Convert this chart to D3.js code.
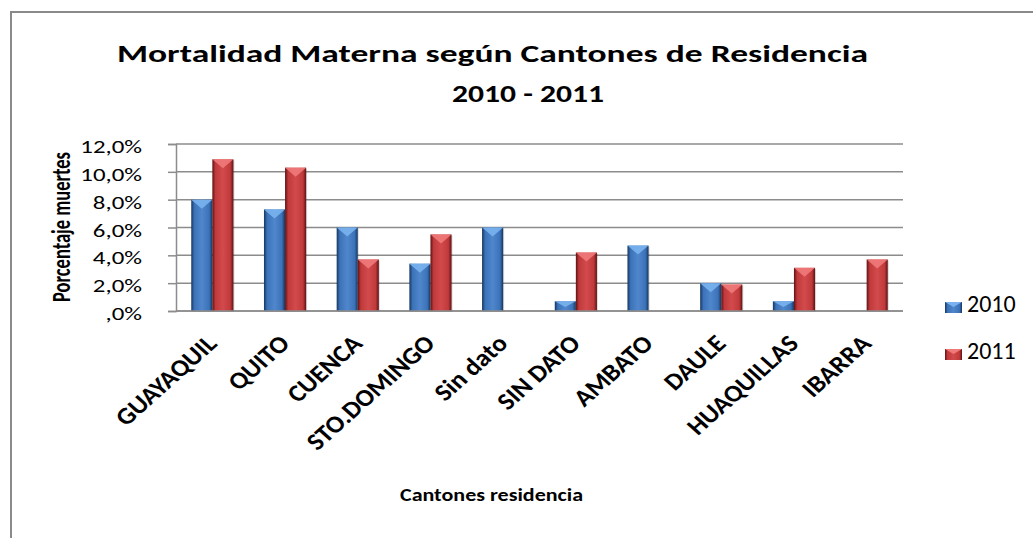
<!DOCTYPE html>
<html>
<head>
<meta charset="utf-8">
<script src="https://cdnjs.cloudflare.com/ajax/libs/d3/7.8.5/d3.min.js"></script>
<style>
  body { margin: 0; background: white; }
  svg { display: block; font-family: Carlito, Calibri, Lato, sans-serif; }
</style>
</head>
<body>
<svg id="chart" width="1033" height="538"></svg>
<script>
// data (percent of deaths)
var cantones = ["GUAYAQUIL", "QUITO", "CUENCA", "STO.DOMINGO", "Sin dato",
                "SIN DATO", "AMBATO", "DAULE", "HUAQUILLAS", "IBARRA"];
var years = ["2010", "2011"];
var values2010 = [8.0, 7.3, 6.0, 3.4, 6.0, 0.7, 4.7, 2.0, 0.7, 0];
var values2011 = [10.9, 10.3, 3.7, 5.5, 0, 4.2, 0, 1.9, 3.1, 3.7];
var yTicks = [0, 2, 4, 6, 8, 10, 12];

// the original picture is stretched sideways, so text is widened to match
var stretch = 1.38;
var labelStretch = 1.12;

var svg = d3.select("#chart");
var defs = svg.append("defs");

var palette = {
  "2010": { dark: "#16365f", mid: "#3b72b8", light: "#4f86cc", top: "#79b2ee" },
  "2011": { dark: "#5e1213", mid: "#c0393b", light: "#d24a4c", top: "#f07a7a" }
};

years.forEach(function(y) {
  var g = defs.append("linearGradient")
    .attr("id", "grad" + y)
    .attr("x1", "0").attr("x2", "1").attr("y1", "0").attr("y2", "0");
  g.append("stop").attr("offset", "0").attr("stop-color", palette[y].dark);
  g.append("stop").attr("offset", "0.15").attr("stop-color", palette[y].mid);
  g.append("stop").attr("offset", "0.5").attr("stop-color", palette[y].light);
  g.append("stop").attr("offset", "0.85").attr("stop-color", palette[y].mid);
  g.append("stop").attr("offset", "1").attr("stop-color", palette[y].dark);
});

function widen(sel, k) {
  sel.each(function() {
    var w = this.getComputedTextLength();
    d3.select(this).attr("textLength", w * k).attr("lengthAdjust", "spacingAndGlyphs");
  });
}

// outer frame (runs off the bottom/right of the picture)
svg.append("rect")
  .attr("x", 11).attr("y", 12)
  .attr("width", 1040).attr("height", 540)
  .attr("fill", "white")
  .attr("stroke", "#8a8a8a")
  .attr("stroke-width", 2);

var margin = { left: 176, right: 903, top: 144, bottom: 311 };

var x = d3.scaleBand()
  .domain(cantones)
  .range([margin.left, margin.right])
  .paddingInner(0.42)
  .paddingOuter(0.21);

var xs = d3.scaleBand()
  .domain(years)
  .range([0, x.bandwidth()]);

var y = d3.scaleLinear()
  .domain([0, 12])
  .range([margin.bottom, margin.top]);

// gridlines
svg.append("g")
  .selectAll("line")
  .data(yTicks)
  .enter().append("line")
  .attr("x1", margin.left)
  .attr("x2", margin.right)
  .attr("y1", function(d) { return y(d); })
  .attr("y2", function(d) { return y(d); })
  .attr("stroke", "#8c8c8c")
  .attr("stroke-width", 1.5);

// y axis
var yAxis = svg.append("g")
  .attr("transform", "translate(" + margin.left + ",0)")
  .call(d3.axisLeft(y).tickValues(yTicks).tickSize(8).tickPadding(26)
    .tickFormat(function(d) { return d === 0 ? ",0%" : d + ",0%"; }));
yAxis.select(".domain").attr("stroke", "#8c8c8c").attr("stroke-width", 1.5);
yAxis.selectAll(".tick line").attr("stroke", "#8c8c8c").attr("stroke-width", 1.5);
yAxis.selectAll(".tick text")
  .attr("fill", "#000")
  .attr("dy", "8.5")
  .style("font-size", "18px")
  .style("font-family", "Carlito, Calibri, Lato, sans-serif")
  .call(widen, stretch);

// bars
var rows = cantones.map(function(c, i) {
  return { canton: c, vals: [{ year: "2010", v: values2010[i] }, { year: "2011", v: values2011[i] }] };
});

var groups = svg.append("g")
  .selectAll("g")
  .data(rows)
  .enter().append("g")
  .attr("transform", function(d) { return "translate(" + x(d.canton) + ",0)"; });

var bar = groups.selectAll("g")
  .data(function(d) { return d.vals.filter(function(e) { return e.v > 0; }); })
  .enter().append("g");

// soft shadow under each bar
bar.append("rect")
  .attr("x", function(d) { return xs(d.year) + 1; })
  .attr("y", function(d) { return y(d.v) + 1; })
  .attr("width", xs.bandwidth())
  .attr("height", function(d) { return y(0) - y(d.v); })
  .attr("fill", "#000")
  .attr("opacity", 0.15);

bar.append("rect")
  .attr("x", function(d) { return xs(d.year); })
  .attr("y", function(d) { return y(d.v); })
  .attr("width", xs.bandwidth())
  .attr("height", function(d) { return y(0) - y(d.v); })
  .attr("fill", function(d) { return "url(#grad" + d.year + ")"; });

// bevelled top of each bar
bar.append("path")
  .attr("d", function(d) {
    var x0 = xs(d.year), w = xs.bandwidth(), t = y(d.v);
    var h = Math.min(9, (y(0) - t) * 0.6);
    return "M" + x0 + "," + t + "L" + (x0 + w) + "," + t +
      "L" + (x0 + w / 2) + "," + (t + h) + "Z";
  })
  .attr("fill", function(d) { return palette[d.year].top; })
  .attr("opacity", 0.9);

// x axis line
svg.append("line")
  .attr("x1", margin.left).attr("x2", margin.right)
  .attr("y1", y(0)).attr("y2", y(0))
  .attr("stroke", "#8c8c8c")
  .attr("stroke-width", 1.5);

// category labels, rotated then widened like the source
svg.append("g")
  .selectAll("text")
  .data(cantones)
  .enter().append("text")
  .attr("transform", function(d) {
    return "translate(" + (x(d) + x.bandwidth() / 2 + 6) + ",345) scale(" + labelStretch + ",1) rotate(-45)";
  })
  .attr("text-anchor", "end")
  .style("font-size", "24px")
  .style("font-weight", "bold")
  .text(function(d) { return d; });

// titles
svg.append("text")
  .attr("x", 492.5).attr("y", 62)
  .attr("text-anchor", "middle")
  .attr("textLength", 751)
  .attr("lengthAdjust", "spacingAndGlyphs")
  .style("font-size", "25px")
  .style("font-weight", "bold")
  .text("Mortalidad Materna según Cantones de Residencia");

svg.append("text")
  .attr("x", 528).attr("y", 102)
  .attr("text-anchor", "middle")
  .attr("textLength", 152)
  .attr("lengthAdjust", "spacingAndGlyphs")
  .style("font-size", "25px")
  .style("font-weight", "bold")
  .text("2010 - 2011");

svg.append("text")
  .attr("x", 491.5).attr("y", 501)
  .attr("text-anchor", "middle")
  .attr("textLength", 183)
  .attr("lengthAdjust", "spacingAndGlyphs")
  .style("font-size", "18px")
  .style("font-weight", "bold")
  .text("Cantones residencia");

svg.append("text")
  .attr("transform", "translate(70,227) scale(" + stretch + ",1) rotate(-90)")
  .attr("text-anchor", "middle")
  .style("font-size", "18.5px")
  .style("font-weight", "bold")
  .text("Porcentaje muertes");

// legend
var legend = svg.append("g")
  .selectAll("g")
  .data(years)
  .enter().append("g")
  .attr("transform", function(d, i) { return "translate(945," + (302 + i * 47) + ")"; });

legend.append("rect")
  .attr("width", 17).attr("height", 11)
  .attr("fill", function(d) { return "url(#grad" + d + ")"; });
legend.append("path")
  .attr("d", "M0,0L17,0L8.5,5Z")
  .attr("fill", function(d) { return palette[d].top; });
legend.append("text")
  .attr("x", 22).attr("y", 10)
  .style("font-size", "24px")
  .text(function(d) { return d; });
</script>
</body>
</html>
